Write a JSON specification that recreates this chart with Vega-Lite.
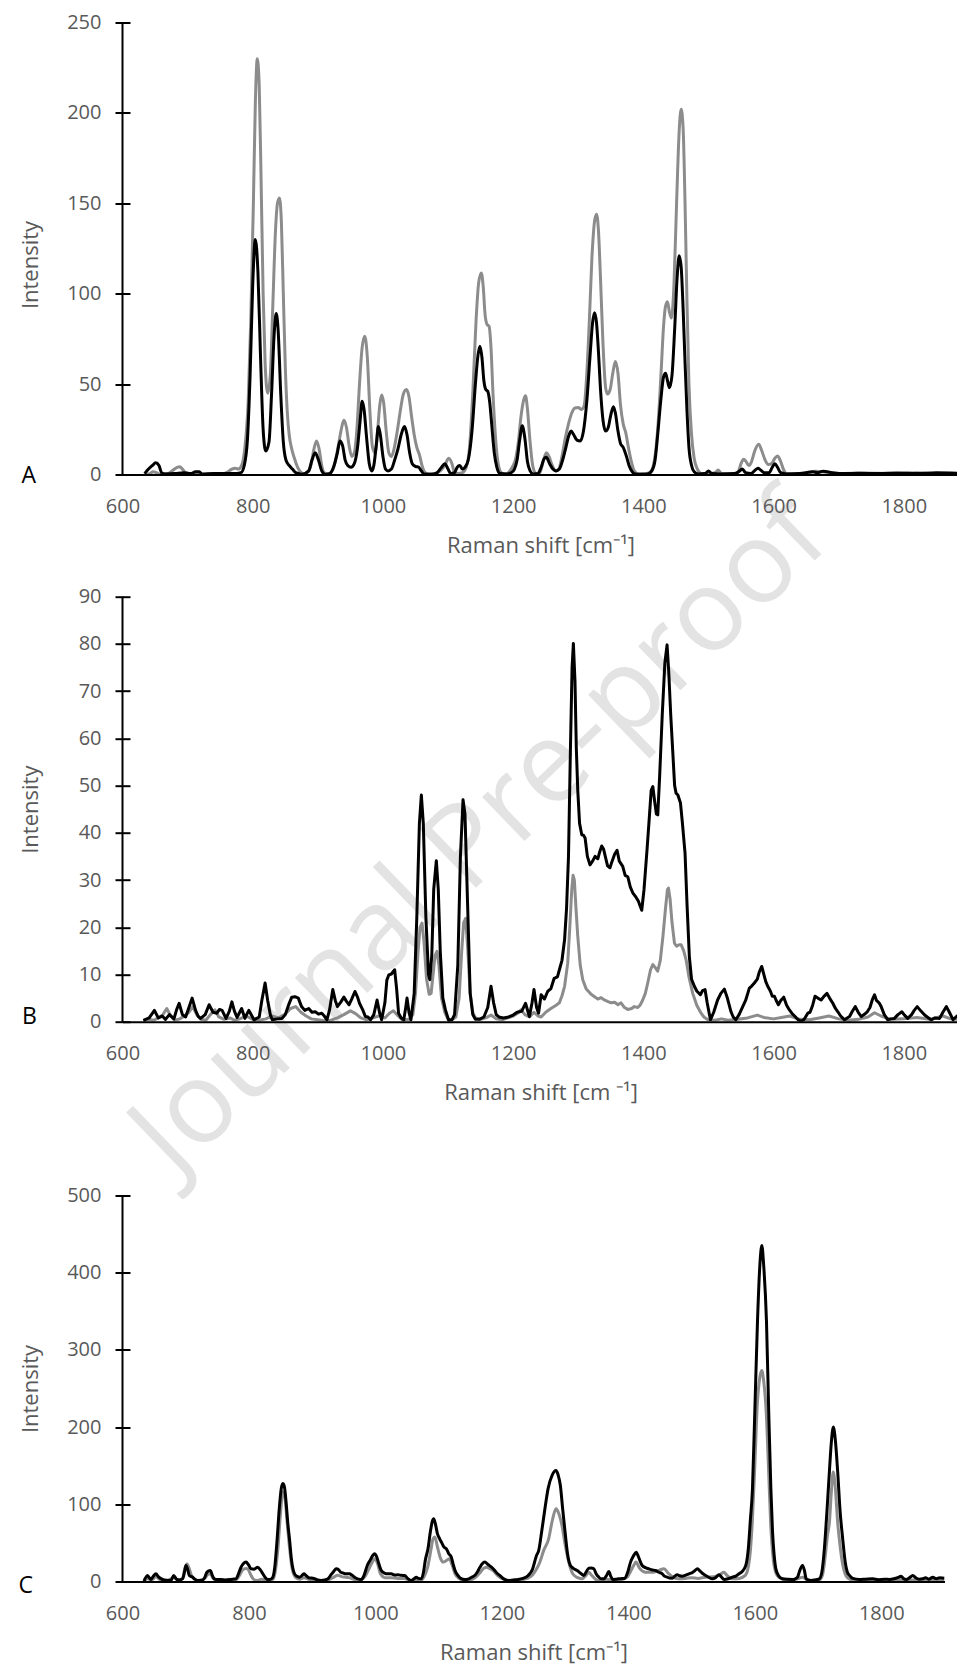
{
"$schema": "https://vega.github.io/schema/vega-lite/v6.json",
"autosize": {"type": "pad"},
"padding": {"left": 18.5, "top": 12.5, "right": 0, "bottom": 0},
"background": "white",
"config": {
  "view": {"stroke": null},
  "axis": {"labelFont": "Open Sans", "titleFont": "Open Sans", "labelFontSize": 20, "titleFontSize": 22, "labelColor": "#595959", "titleColor": "#595959", "titleFontWeight": "normal", "grid": false, "domainColor": "#000000", "tickColor": "#000000", "zindex": 1},
  "axisY": {"offset": -7.5, "domain": false, "tickSize": 15, "tickWidth": 2, "labelPadding": 14, "minExtent": 62, "maxExtent": 62, "titlePadding": 26, "labelOverlap": false},
  "axisX": {"ticks": false, "tickSize": 0, "labelPadding": 22, "titlePadding": 19, "domainWidth": 2, "labelFlush": false, "labelOverlap": false}
},
"datasets": {
"A": [
{"s":"k","x":634,"y":0.5},{"s":"k","x":640,"y":3},{"s":"k","x":646,"y":5},{"s":"k","x":651,"y":6.5},{"s":"k","x":656,"y":5},{"s":"k","x":660,"y":1},{"s":"k","x":666,"y":0.3},{"s":"k","x":680,"y":0.5},{"s":"k","x":695,"y":1},{"s":"k","x":705,"y":0.5},{"s":"k","x":712,"y":1.5},{"s":"k","x":718,"y":1.5},{"s":"k","x":722,"y":0.3},{"s":"k","x":740,"y":0.5},{"s":"k","x":760,"y":0.5},{"s":"k","x":775,"y":0.5},{"s":"k","x":782,"y":1},{"s":"k","x":787,"y":5},{"s":"k","x":792,"y":20},{"s":"k","x":796,"y":55},{"s":"k","x":800,"y":105},{"s":"k","x":804,"y":130},{"s":"k","x":808,"y":112},{"s":"k","x":812,"y":65},{"s":"k","x":816,"y":25},{"s":"k","x":820,"y":13},{"s":"k","x":825,"y":18},{"s":"k","x":829,"y":45},{"s":"k","x":833,"y":78},{"s":"k","x":836,"y":89},{"s":"k","x":839,"y":80},{"s":"k","x":843,"y":45},{"s":"k","x":847,"y":18},{"s":"k","x":851,"y":8},{"s":"k","x":856,"y":5},{"s":"k","x":861,"y":3},{"s":"k","x":866,"y":1},{"s":"k","x":876,"y":0.2},{"s":"k","x":886,"y":2},{"s":"k","x":891,"y":8},{"s":"k","x":896,"y":12},{"s":"k","x":901,"y":8},{"s":"k","x":906,"y":2},{"s":"k","x":911,"y":0.2},{"s":"k","x":918,"y":0.5},{"s":"k","x":925,"y":5},{"s":"k","x":930,"y":12},{"s":"k","x":934,"y":18.5},{"s":"k","x":938,"y":16},{"s":"k","x":942,"y":8},{"s":"k","x":946,"y":5},{"s":"k","x":951,"y":4},{"s":"k","x":956,"y":6},{"s":"k","x":961,"y":15},{"s":"k","x":965,"y":30},{"s":"k","x":968,"y":40.5},{"s":"k","x":971,"y":36},{"s":"k","x":975,"y":20},{"s":"k","x":979,"y":6},{"s":"k","x":983,"y":2},{"s":"k","x":986,"y":5},{"s":"k","x":990,"y":17},{"s":"k","x":993,"y":26.5},{"s":"k","x":996,"y":22},{"s":"k","x":1000,"y":10},{"s":"k","x":1004,"y":3},{"s":"k","x":1008,"y":2},{"s":"k","x":1013,"y":3},{"s":"k","x":1018,"y":8},{"s":"k","x":1023,"y":14},{"s":"k","x":1028,"y":22},{"s":"k","x":1033,"y":26.5},{"s":"k","x":1037,"y":22},{"s":"k","x":1041,"y":12},{"s":"k","x":1045,"y":6},{"s":"k","x":1050,"y":4.5},{"s":"k","x":1055,"y":4},{"s":"k","x":1059,"y":2},{"s":"k","x":1063,"y":0.3},{"s":"k","x":1075,"y":0.2},{"s":"k","x":1083,"y":1},{"s":"k","x":1090,"y":4},{"s":"k","x":1095,"y":6},{"s":"k","x":1100,"y":3},{"s":"k","x":1104,"y":0.5},{"s":"k","x":1110,"y":1},{"s":"k","x":1114,"y":4},{"s":"k","x":1118,"y":5},{"s":"k","x":1122,"y":3},{"s":"k","x":1126,"y":4},{"s":"k","x":1131,"y":8},{"s":"k","x":1137,"y":25},{"s":"k","x":1142,"y":50},{"s":"k","x":1146,"y":66},{"s":"k","x":1149,"y":71},{"s":"k","x":1152,"y":65},{"s":"k","x":1155,"y":52},{"s":"k","x":1158,"y":47},{"s":"k","x":1161,"y":46},{"s":"k","x":1164,"y":40},{"s":"k","x":1167,"y":28},{"s":"k","x":1171,"y":12},{"s":"k","x":1175,"y":4},{"s":"k","x":1180,"y":0.5},{"s":"k","x":1190,"y":0.3},{"s":"k","x":1197,"y":1},{"s":"k","x":1202,"y":3},{"s":"k","x":1206,"y":8},{"s":"k","x":1210,"y":19},{"s":"k","x":1214,"y":27},{"s":"k","x":1218,"y":20},{"s":"k","x":1222,"y":7},{"s":"k","x":1226,"y":2},{"s":"k","x":1231,"y":0.3},{"s":"k","x":1238,"y":0.5},{"s":"k","x":1243,"y":4},{"s":"k","x":1248,"y":9},{"s":"k","x":1251,"y":9.5},{"s":"k","x":1256,"y":6},{"s":"k","x":1261,"y":3},{"s":"k","x":1266,"y":2},{"s":"k","x":1271,"y":3},{"s":"k","x":1276,"y":8},{"s":"k","x":1281,"y":15},{"s":"k","x":1285,"y":21},{"s":"k","x":1289,"y":24},{"s":"k","x":1293,"y":22},{"s":"k","x":1298,"y":19},{"s":"k","x":1303,"y":18.5},{"s":"k","x":1308,"y":24},{"s":"k","x":1313,"y":40},{"s":"k","x":1318,"y":65},{"s":"k","x":1322,"y":84},{"s":"k","x":1325,"y":89.5},{"s":"k","x":1328,"y":84},{"s":"k","x":1331,"y":68},{"s":"k","x":1334,"y":48},{"s":"k","x":1338,"y":30},{"s":"k","x":1342,"y":24},{"s":"k","x":1346,"y":26},{"s":"k","x":1350,"y":33},{"s":"k","x":1354,"y":37.5},{"s":"k","x":1357,"y":34},{"s":"k","x":1361,"y":24},{"s":"k","x":1365,"y":17},{"s":"k","x":1369,"y":15},{"s":"k","x":1374,"y":10},{"s":"k","x":1378,"y":5},{"s":"k","x":1383,"y":1.5},{"s":"k","x":1388,"y":0.3},{"s":"k","x":1400,"y":0.2},{"s":"k","x":1408,"y":0.5},{"s":"k","x":1413,"y":2},{"s":"k","x":1418,"y":8},{"s":"k","x":1422,"y":22},{"s":"k","x":1427,"y":42},{"s":"k","x":1431,"y":54},{"s":"k","x":1434,"y":56},{"s":"k","x":1437,"y":52},{"s":"k","x":1440,"y":48},{"s":"k","x":1444,"y":55},{"s":"k","x":1448,"y":80},{"s":"k","x":1452,"y":110},{"s":"k","x":1455,"y":121},{"s":"k","x":1458,"y":115},{"s":"k","x":1461,"y":92},{"s":"k","x":1464,"y":62},{"s":"k","x":1467,"y":35},{"s":"k","x":1470,"y":15},{"s":"k","x":1474,"y":5},{"s":"k","x":1478,"y":1.5},{"s":"k","x":1484,"y":0.3},{"s":"k","x":1495,"y":0.5},{"s":"k","x":1500,"y":2},{"s":"k","x":1505,"y":0.5},{"s":"k","x":1520,"y":0.3},{"s":"k","x":1540,"y":0.5},{"s":"k","x":1548,"y":2},{"s":"k","x":1552,"y":3},{"s":"k","x":1557,"y":1},{"s":"k","x":1565,"y":0.5},{"s":"k","x":1572,"y":2.5},{"s":"k","x":1576,"y":3.5},{"s":"k","x":1580,"y":2.5},{"s":"k","x":1586,"y":1},{"s":"k","x":1593,"y":1},{"s":"k","x":1598,"y":4},{"s":"k","x":1602,"y":6},{"s":"k","x":1606,"y":4},{"s":"k","x":1611,"y":1},{"s":"k","x":1620,"y":0.3},{"s":"k","x":1640,"y":0.5},{"s":"k","x":1660,"y":1.5},{"s":"k","x":1668,"y":1},{"s":"k","x":1676,"y":1.8},{"s":"k","x":1690,"y":1},{"s":"k","x":1710,"y":0.5},{"s":"k","x":1730,"y":0.7},{"s":"k","x":1760,"y":0.5},{"s":"k","x":1790,"y":0.8},{"s":"k","x":1820,"y":0.6},{"s":"k","x":1850,"y":0.9},{"s":"k","x":1884,"y":0.6},
{"s":"g","x":634,"y":0},{"s":"g","x":642,"y":0.5},{"s":"g","x":647,"y":1.5},{"s":"g","x":652,"y":1},{"s":"g","x":657,"y":0.2},{"s":"g","x":670,"y":0.5},{"s":"g","x":678,"y":2.5},{"s":"g","x":684,"y":4},{"s":"g","x":688,"y":4.3},{"s":"g","x":692,"y":3},{"s":"g","x":697,"y":1},{"s":"g","x":705,"y":0.3},{"s":"g","x":720,"y":0.2},{"s":"g","x":740,"y":0.3},{"s":"g","x":755,"y":0.5},{"s":"g","x":762,"y":1.5},{"s":"g","x":768,"y":3},{"s":"g","x":773,"y":3.5},{"s":"g","x":778,"y":3},{"s":"g","x":783,"y":5},{"s":"g","x":788,"y":15},{"s":"g","x":793,"y":40},{"s":"g","x":797,"y":85},{"s":"g","x":801,"y":150},{"s":"g","x":804,"y":205},{"s":"g","x":807,"y":230},{"s":"g","x":810,"y":215},{"s":"g","x":813,"y":160},{"s":"g","x":816,"y":100},{"s":"g","x":819,"y":62},{"s":"g","x":823,"y":45},{"s":"g","x":827,"y":55},{"s":"g","x":831,"y":95},{"s":"g","x":835,"y":135},{"s":"g","x":838,"y":150},{"s":"g","x":841,"y":153},{"s":"g","x":844,"y":140},{"s":"g","x":847,"y":100},{"s":"g","x":850,"y":60},{"s":"g","x":853,"y":35},{"s":"g","x":856,"y":22},{"s":"g","x":860,"y":14},{"s":"g","x":864,"y":9},{"s":"g","x":869,"y":4},{"s":"g","x":875,"y":1},{"s":"g","x":880,"y":0.5},{"s":"g","x":885,"y":1.5},{"s":"g","x":890,"y":6},{"s":"g","x":894,"y":14},{"s":"g","x":898,"y":18.5},{"s":"g","x":902,"y":14},{"s":"g","x":906,"y":5},{"s":"g","x":910,"y":1},{"s":"g","x":915,"y":0.5},{"s":"g","x":920,"y":1},{"s":"g","x":926,"y":6},{"s":"g","x":931,"y":15},{"s":"g","x":936,"y":25},{"s":"g","x":940,"y":30},{"s":"g","x":944,"y":26},{"s":"g","x":948,"y":16},{"s":"g","x":952,"y":10},{"s":"g","x":956,"y":12},{"s":"g","x":960,"y":25},{"s":"g","x":964,"y":50},{"s":"g","x":968,"y":70},{"s":"g","x":972,"y":76.5},{"s":"g","x":976,"y":65},{"s":"g","x":980,"y":35},{"s":"g","x":984,"y":15},{"s":"g","x":988,"y":12},{"s":"g","x":992,"y":25},{"s":"g","x":995,"y":38},{"s":"g","x":998,"y":44},{"s":"g","x":1001,"y":40},{"s":"g","x":1005,"y":24},{"s":"g","x":1009,"y":12},{"s":"g","x":1013,"y":10},{"s":"g","x":1017,"y":14},{"s":"g","x":1022,"y":24},{"s":"g","x":1027,"y":36},{"s":"g","x":1031,"y":44},{"s":"g","x":1036,"y":47},{"s":"g","x":1040,"y":43},{"s":"g","x":1044,"y":32},{"s":"g","x":1048,"y":22},{"s":"g","x":1052,"y":15},{"s":"g","x":1056,"y":11},{"s":"g","x":1060,"y":5},{"s":"g","x":1065,"y":1},{"s":"g","x":1072,"y":0.3},{"s":"g","x":1080,"y":0.5},{"s":"g","x":1088,"y":2},{"s":"g","x":1095,"y":5},{"s":"g","x":1101,"y":9},{"s":"g","x":1106,"y":6},{"s":"g","x":1110,"y":1},{"s":"g","x":1116,"y":0.5},{"s":"g","x":1122,"y":1},{"s":"g","x":1128,"y":4},{"s":"g","x":1133,"y":15},{"s":"g","x":1138,"y":45},{"s":"g","x":1143,"y":85},{"s":"g","x":1147,"y":106},{"s":"g","x":1151,"y":111.5},{"s":"g","x":1154,"y":104},{"s":"g","x":1157,"y":88},{"s":"g","x":1160,"y":83},{"s":"g","x":1163,"y":82},{"s":"g","x":1166,"y":70},{"s":"g","x":1169,"y":45},{"s":"g","x":1173,"y":20},{"s":"g","x":1177,"y":6},{"s":"g","x":1182,"y":1},{"s":"g","x":1188,"y":0.3},{"s":"g","x":1195,"y":2},{"s":"g","x":1200,"y":5},{"s":"g","x":1204,"y":9},{"s":"g","x":1208,"y":18},{"s":"g","x":1212,"y":32},{"s":"g","x":1216,"y":41},{"s":"g","x":1219,"y":43.5},{"s":"g","x":1222,"y":36},{"s":"g","x":1226,"y":18},{"s":"g","x":1230,"y":5},{"s":"g","x":1235,"y":0.5},{"s":"g","x":1241,"y":1},{"s":"g","x":1246,"y":7},{"s":"g","x":1251,"y":12},{"s":"g","x":1255,"y":10},{"s":"g","x":1260,"y":5},{"s":"g","x":1265,"y":2},{"s":"g","x":1270,"y":3},{"s":"g","x":1275,"y":10},{"s":"g","x":1280,"y":20},{"s":"g","x":1285,"y":28},{"s":"g","x":1290,"y":34},{"s":"g","x":1295,"y":36.8},{"s":"g","x":1300,"y":37},{"s":"g","x":1305,"y":36},{"s":"g","x":1309,"y":38},{"s":"g","x":1313,"y":55},{"s":"g","x":1317,"y":85},{"s":"g","x":1321,"y":120},{"s":"g","x":1325,"y":140},{"s":"g","x":1328,"y":144},{"s":"g","x":1331,"y":135},{"s":"g","x":1334,"y":110},{"s":"g","x":1338,"y":72},{"s":"g","x":1342,"y":48},{"s":"g","x":1345,"y":44.5},{"s":"g","x":1349,"y":47},{"s":"g","x":1353,"y":56},{"s":"g","x":1357,"y":62.5},{"s":"g","x":1361,"y":56},{"s":"g","x":1365,"y":38},{"s":"g","x":1369,"y":28},{"s":"g","x":1373,"y":23},{"s":"g","x":1377,"y":15},{"s":"g","x":1381,"y":8},{"s":"g","x":1386,"y":2},{"s":"g","x":1392,"y":0.3},{"s":"g","x":1405,"y":0.5},{"s":"g","x":1412,"y":2},{"s":"g","x":1417,"y":8},{"s":"g","x":1422,"y":25},{"s":"g","x":1427,"y":55},{"s":"g","x":1431,"y":82},{"s":"g","x":1434,"y":93},{"s":"g","x":1437,"y":95.5},{"s":"g","x":1440,"y":90},{"s":"g","x":1443,"y":86.5},{"s":"g","x":1447,"y":105},{"s":"g","x":1451,"y":150},{"s":"g","x":1455,"y":190},{"s":"g","x":1458,"y":202},{"s":"g","x":1461,"y":192},{"s":"g","x":1464,"y":150},{"s":"g","x":1467,"y":95},{"s":"g","x":1470,"y":50},{"s":"g","x":1474,"y":22},{"s":"g","x":1478,"y":9},{"s":"g","x":1483,"y":3},{"s":"g","x":1489,"y":0.5},{"s":"g","x":1500,"y":0.3},{"s":"g","x":1510,"y":1},{"s":"g","x":1515,"y":2.5},{"s":"g","x":1520,"y":0.5},{"s":"g","x":1530,"y":0.3},{"s":"g","x":1545,"y":1},{"s":"g","x":1550,"y":6},{"s":"g","x":1554,"y":8.5},{"s":"g","x":1558,"y":7},{"s":"g","x":1562,"y":5},{"s":"g","x":1566,"y":7},{"s":"g","x":1571,"y":13},{"s":"g","x":1577,"y":16.7},{"s":"g","x":1582,"y":13},{"s":"g","x":1587,"y":8},{"s":"g","x":1592,"y":5.5},{"s":"g","x":1597,"y":6},{"s":"g","x":1602,"y":9},{"s":"g","x":1606,"y":10.2},{"s":"g","x":1610,"y":8},{"s":"g","x":1615,"y":3},{"s":"g","x":1620,"y":0.5},{"s":"g","x":1630,"y":0.3},{"s":"g","x":1650,"y":0.5},{"s":"g","x":1665,"y":1.8},{"s":"g","x":1675,"y":1.5},{"s":"g","x":1685,"y":1},{"s":"g","x":1700,"y":0.6},{"s":"g","x":1740,"y":0.8},{"s":"g","x":1780,"y":0.5},{"s":"g","x":1820,"y":0.9},{"s":"g","x":1850,"y":0.6},{"s":"g","x":1884,"y":0.5}
],
"B": [
{"s":"k","x":632,"y":0.3},{"s":"k","x":641,"y":0.8},{"s":"k","x":649,"y":2.4},{"s":"k","x":655,"y":0.8},{"s":"k","x":661,"y":1.2},{"s":"k","x":666,"y":0.5},{"s":"k","x":672,"y":1.5},{"s":"k","x":679,"y":0.6},{"s":"k","x":683,"y":2.5},{"s":"k","x":687,"y":3.9},{"s":"k","x":692,"y":1.5},{"s":"k","x":697,"y":1},{"s":"k","x":702,"y":3},{"s":"k","x":707,"y":5},{"s":"k","x":712,"y":2.5},{"s":"k","x":716,"y":1.2},{"s":"k","x":720,"y":0.7},{"s":"k","x":727,"y":1.5},{"s":"k","x":733,"y":3.6},{"s":"k","x":739,"y":2},{"s":"k","x":745,"y":1.8},{"s":"k","x":749,"y":2.6},{"s":"k","x":753,"y":2.4},{"s":"k","x":759,"y":0.7},{"s":"k","x":764,"y":2.2},{"s":"k","x":768,"y":4.2},{"s":"k","x":772,"y":2.2},{"s":"k","x":776,"y":0.9},{"s":"k","x":780,"y":2},{"s":"k","x":783,"y":2.8},{"s":"k","x":788,"y":0.7},{"s":"k","x":791,"y":1.6},{"s":"k","x":794,"y":2.4},{"s":"k","x":798,"y":1.4},{"s":"k","x":802,"y":0.4},{"s":"k","x":810,"y":1},{"s":"k","x":814,"y":4.5},{"s":"k","x":819,"y":8.2},{"s":"k","x":823,"y":4.5},{"s":"k","x":827,"y":1.5},{"s":"k","x":830,"y":0.4},{"s":"k","x":838,"y":0.6},{"s":"k","x":845,"y":0.7},{"s":"k","x":850,"y":1.5},{"s":"k","x":855,"y":3.5},{"s":"k","x":860,"y":5.2},{"s":"k","x":865,"y":5.3},{"s":"k","x":870,"y":5},{"s":"k","x":875,"y":3.2},{"s":"k","x":880,"y":2.4},{"s":"k","x":886,"y":2.8},{"s":"k","x":891,"y":2},{"s":"k","x":896,"y":2.1},{"s":"k","x":901,"y":1.6},{"s":"k","x":906,"y":1.8},{"s":"k","x":910,"y":1.2},{"s":"k","x":914,"y":0.4},{"s":"k","x":918,"y":2.5},{"s":"k","x":923,"y":6.8},{"s":"k","x":927,"y":4.4},{"s":"k","x":930,"y":3.2},{"s":"k","x":935,"y":4.1},{"s":"k","x":940,"y":5.2},{"s":"k","x":944,"y":4.3},{"s":"k","x":948,"y":3.6},{"s":"k","x":952,"y":4.8},{"s":"k","x":957,"y":6.4},{"s":"k","x":961,"y":5.2},{"s":"k","x":964,"y":3.9},{"s":"k","x":969,"y":2.5},{"s":"k","x":973,"y":1.1},{"s":"k","x":977,"y":1},{"s":"k","x":981,"y":0.4},{"s":"k","x":986,"y":1.5},{"s":"k","x":991,"y":4.6},{"s":"k","x":995,"y":1.8},{"s":"k","x":998,"y":0.4},{"s":"k","x":1003,"y":4},{"s":"k","x":1006,"y":8.8},{"s":"k","x":1009,"y":9.9},{"s":"k","x":1013,"y":10.1},{"s":"k","x":1018,"y":11},{"s":"k","x":1021,"y":7},{"s":"k","x":1024,"y":1.8},{"s":"k","x":1028,"y":0.8},{"s":"k","x":1032,"y":0.4},{"s":"k","x":1035,"y":3},{"s":"k","x":1037,"y":5},{"s":"k","x":1040,"y":2},{"s":"k","x":1043,"y":0.4},{"s":"k","x":1048,"y":6},{"s":"k","x":1052,"y":22},{"s":"k","x":1056,"y":42},{"s":"k","x":1059,"y":48},{"s":"k","x":1062,"y":42},{"s":"k","x":1066,"y":22},{"s":"k","x":1070,"y":10},{"s":"k","x":1072,"y":8.9},{"s":"k","x":1075,"y":14},{"s":"k","x":1078,"y":28},{"s":"k","x":1082,"y":34.1},{"s":"k","x":1085,"y":28},{"s":"k","x":1088,"y":15},{"s":"k","x":1092,"y":5},{"s":"k","x":1096,"y":2.5},{"s":"k","x":1101,"y":0.3},{"s":"k","x":1106,"y":0.4},{"s":"k","x":1110,"y":1.5},{"s":"k","x":1115,"y":12},{"s":"k","x":1119,"y":35},{"s":"k","x":1123,"y":47},{"s":"k","x":1126,"y":44},{"s":"k","x":1130,"y":25},{"s":"k","x":1134,"y":6},{"s":"k","x":1138,"y":1.5},{"s":"k","x":1142,"y":0.5},{"s":"k","x":1148,"y":0.5},{"s":"k","x":1155,"y":1},{"s":"k","x":1161,"y":3},{"s":"k","x":1166,"y":7.5},{"s":"k","x":1170,"y":4},{"s":"k","x":1174,"y":1.5},{"s":"k","x":1178,"y":1},{"s":"k","x":1185,"y":0.8},{"s":"k","x":1193,"y":1},{"s":"k","x":1200,"y":1.4},{"s":"k","x":1206,"y":2},{"s":"k","x":1213,"y":2.2},{"s":"k","x":1219,"y":3.9},{"s":"k","x":1223,"y":2},{"s":"k","x":1225,"y":1.1},{"s":"k","x":1229,"y":4},{"s":"k","x":1232,"y":6.8},{"s":"k","x":1236,"y":3},{"s":"k","x":1239,"y":1.8},{"s":"k","x":1243,"y":5.7},{"s":"k","x":1248,"y":4.8},{"s":"k","x":1253,"y":6.4},{"s":"k","x":1258,"y":7},{"s":"k","x":1263,"y":9.2},{"s":"k","x":1268,"y":9.5},{"s":"k","x":1271,"y":11},{"s":"k","x":1275,"y":13},{"s":"k","x":1279,"y":17.4},{"s":"k","x":1282,"y":24},{"s":"k","x":1285,"y":35},{"s":"k","x":1288,"y":58},{"s":"k","x":1290.5,"y":75},{"s":"k","x":1292.5,"y":80.1},{"s":"k","x":1295,"y":72},{"s":"k","x":1297,"y":58},{"s":"k","x":1299.2,"y":49.1},{"s":"k","x":1302,"y":42},{"s":"k","x":1305.4,"y":39.6},{"s":"k","x":1308,"y":39.5},{"s":"k","x":1310.5,"y":38.9},{"s":"k","x":1314,"y":35},{"s":"k","x":1318,"y":33.2},{"s":"k","x":1322,"y":34},{"s":"k","x":1325.8,"y":35},{"s":"k","x":1330,"y":34.5},{"s":"k","x":1333,"y":36},{"s":"k","x":1336,"y":37.2},{"s":"k","x":1339,"y":36.5},{"s":"k","x":1341.5,"y":35},{"s":"k","x":1345,"y":33},{"s":"k","x":1348.7,"y":32.6},{"s":"k","x":1352,"y":34},{"s":"k","x":1356,"y":35.5},{"s":"k","x":1359.6,"y":36.3},{"s":"k","x":1363,"y":34},{"s":"k","x":1368.3,"y":32.9},{"s":"k","x":1372,"y":31},{"s":"k","x":1376,"y":30.7},{"s":"k","x":1380,"y":28.5},{"s":"k","x":1383.7,"y":27.3},{"s":"k","x":1388,"y":26.5},{"s":"k","x":1392.4,"y":25.5},{"s":"k","x":1395,"y":24.5},{"s":"k","x":1397.5,"y":23.6},{"s":"k","x":1401,"y":28},{"s":"k","x":1405.6,"y":36.4},{"s":"k","x":1409,"y":43},{"s":"k","x":1412,"y":49},{"s":"k","x":1414.5,"y":49.8},{"s":"k","x":1417,"y":47},{"s":"k","x":1420,"y":44},{"s":"k","x":1422.1,"y":43.8},{"s":"k","x":1425,"y":52},{"s":"k","x":1429,"y":65},{"s":"k","x":1433,"y":76},{"s":"k","x":1436.4,"y":79.8},{"s":"k","x":1439,"y":74},{"s":"k","x":1442,"y":65},{"s":"k","x":1445,"y":57.5},{"s":"k","x":1448,"y":50},{"s":"k","x":1450.2,"y":48.4},{"s":"k","x":1453,"y":48},{"s":"k","x":1457,"y":46.3},{"s":"k","x":1460,"y":42},{"s":"k","x":1464,"y":35.7},{"s":"k","x":1467,"y":25},{"s":"k","x":1470.6,"y":13.8},{"s":"k","x":1474,"y":9},{"s":"k","x":1478.3,"y":7.5},{"s":"k","x":1482,"y":6.5},{"s":"k","x":1487.5,"y":5.7},{"s":"k","x":1491,"y":6.6},{"s":"k","x":1494.7,"y":6.8},{"s":"k","x":1498,"y":4},{"s":"k","x":1503,"y":0.4},{"s":"k","x":1508,"y":2},{"s":"k","x":1514,"y":4.6},{"s":"k","x":1519,"y":6},{"s":"k","x":1524.4,"y":6.9},{"s":"k","x":1529,"y":5},{"s":"k","x":1534.6,"y":2.1},{"s":"k","x":1538,"y":1},{"s":"k","x":1542,"y":0.4},{"s":"k","x":1547,"y":1.5},{"s":"k","x":1552.6,"y":3.2},{"s":"k","x":1557,"y":4.5},{"s":"k","x":1562.8,"y":7.1},{"s":"k","x":1566,"y":7.5},{"s":"k","x":1570.5,"y":8.2},{"s":"k","x":1575,"y":9},{"s":"k","x":1578,"y":10.5},{"s":"k","x":1581.8,"y":11.7},{"s":"k","x":1585,"y":10},{"s":"k","x":1588,"y":8.5},{"s":"k","x":1591,"y":7.5},{"s":"k","x":1595,"y":6.5},{"s":"k","x":1598,"y":5.4},{"s":"k","x":1601.3,"y":5.4},{"s":"k","x":1604,"y":4.5},{"s":"k","x":1607.4,"y":3.6},{"s":"k","x":1611,"y":4.5},{"s":"k","x":1615.6,"y":5.2},{"s":"k","x":1620,"y":3.5},{"s":"k","x":1624.3,"y":2.5},{"s":"k","x":1628,"y":1.8},{"s":"k","x":1633,"y":1.1},{"s":"k","x":1637,"y":0.5},{"s":"k","x":1642,"y":0.1},{"s":"k","x":1647,"y":0.5},{"s":"k","x":1652.5,"y":1.8},{"s":"k","x":1656,"y":2},{"s":"k","x":1660,"y":3.5},{"s":"k","x":1663.7,"y":5.4},{"s":"k","x":1668,"y":5},{"s":"k","x":1673,"y":4.6},{"s":"k","x":1677,"y":5.3},{"s":"k","x":1682,"y":6},{"s":"k","x":1686,"y":5},{"s":"k","x":1691,"y":3.9},{"s":"k","x":1695,"y":2.8},{"s":"k","x":1698.7,"y":2.1},{"s":"k","x":1703,"y":1.2},{"s":"k","x":1709,"y":0.4},{"s":"k","x":1713,"y":0.8},{"s":"k","x":1716.7,"y":1.1},{"s":"k","x":1721,"y":2.2},{"s":"k","x":1725.5,"y":3.2},{"s":"k","x":1730,"y":2},{"s":"k","x":1734.7,"y":1.1},{"s":"k","x":1739,"y":1.5},{"s":"k","x":1743.9,"y":2.1},{"s":"k","x":1748,"y":3},{"s":"k","x":1752,"y":4.8},{"s":"k","x":1755,"y":5.7},{"s":"k","x":1758,"y":4.5},{"s":"k","x":1762,"y":4},{"s":"k","x":1765.2,"y":3.2},{"s":"k","x":1770,"y":1.5},{"s":"k","x":1775.4,"y":0.4},{"s":"k","x":1780,"y":0.6},{"s":"k","x":1785.6,"y":0.7},{"s":"k","x":1791,"y":1.5},{"s":"k","x":1797,"y":2.1},{"s":"k","x":1801,"y":1.4},{"s":"k","x":1806,"y":0.7},{"s":"k","x":1812,"y":1.5},{"s":"k","x":1816,"y":2.4},{"s":"k","x":1820.6,"y":3.2},{"s":"k","x":1826,"y":2.3},{"s":"k","x":1832,"y":1.4},{"s":"k","x":1837,"y":0.9},{"s":"k","x":1842,"y":0.4},{"s":"k","x":1848,"y":0.8},{"s":"k","x":1855,"y":0.7},{"s":"k","x":1860,"y":2},{"s":"k","x":1865.4,"y":3.2},{"s":"k","x":1870,"y":2},{"s":"k","x":1875.7,"y":0.4},{"s":"k","x":1880,"y":1},{"s":"k","x":1884,"y":1.4},
{"s":"g","x":632,"y":0.2},{"s":"g","x":640,"y":0.5},{"s":"g","x":648,"y":0.3},{"s":"g","x":655,"y":0.8},{"s":"g","x":662,"y":1.5},{"s":"g","x":668,"y":2.8},{"s":"g","x":674,"y":1.2},{"s":"g","x":680,"y":0.3},{"s":"g","x":688,"y":0.6},{"s":"g","x":695,"y":1.2},{"s":"g","x":702,"y":2},{"s":"g","x":708,"y":3.2},{"s":"g","x":714,"y":1.5},{"s":"g","x":720,"y":0.5},{"s":"g","x":728,"y":0.3},{"s":"g","x":735,"y":1.5},{"s":"g","x":742,"y":2.5},{"s":"g","x":748,"y":1},{"s":"g","x":756,"y":0.5},{"s":"g","x":765,"y":0.8},{"s":"g","x":772,"y":0.3},{"s":"g","x":780,"y":0.6},{"s":"g","x":790,"y":1.2},{"s":"g","x":800,"y":0.5},{"s":"g","x":810,"y":0.3},{"s":"g","x":820,"y":0.6},{"s":"g","x":830,"y":1.2},{"s":"g","x":840,"y":0.8},{"s":"g","x":850,"y":1.6},{"s":"g","x":858,"y":2.8},{"s":"g","x":866,"y":3.2},{"s":"g","x":874,"y":2},{"s":"g","x":882,"y":1.2},{"s":"g","x":890,"y":0.6},{"s":"g","x":900,"y":0.4},{"s":"g","x":910,"y":0.2},{"s":"g","x":920,"y":0.3},{"s":"g","x":930,"y":0.8},{"s":"g","x":940,"y":1.5},{"s":"g","x":950,"y":2.3},{"s":"g","x":958,"y":1.7},{"s":"g","x":966,"y":0.8},{"s":"g","x":975,"y":0.4},{"s":"g","x":985,"y":0.8},{"s":"g","x":995,"y":1.3},{"s":"g","x":1003,"y":0.8},{"s":"g","x":1010,"y":1.8},{"s":"g","x":1016,"y":2.3},{"s":"g","x":1022,"y":1.4},{"s":"g","x":1030,"y":0.4},{"s":"g","x":1040,"y":0.5},{"s":"g","x":1046,"y":1.5},{"s":"g","x":1050,"y":6},{"s":"g","x":1054,"y":15},{"s":"g","x":1057,"y":20},{"s":"g","x":1060,"y":20.9},{"s":"g","x":1063,"y":17},{"s":"g","x":1067,"y":9},{"s":"g","x":1071,"y":5.8},{"s":"g","x":1074,"y":6},{"s":"g","x":1077,"y":10},{"s":"g","x":1080,"y":14},{"s":"g","x":1083,"y":14.9},{"s":"g","x":1086,"y":12},{"s":"g","x":1090,"y":5},{"s":"g","x":1095,"y":2},{"s":"g","x":1100,"y":0.5},{"s":"g","x":1106,"y":0.4},{"s":"g","x":1112,"y":1},{"s":"g","x":1117,"y":5},{"s":"g","x":1121,"y":15},{"s":"g","x":1124,"y":21},{"s":"g","x":1127,"y":21.9},{"s":"g","x":1130,"y":16},{"s":"g","x":1134,"y":6},{"s":"g","x":1138,"y":2},{"s":"g","x":1142,"y":0.8},{"s":"g","x":1150,"y":0.5},{"s":"g","x":1158,"y":0.8},{"s":"g","x":1166,"y":1.4},{"s":"g","x":1174,"y":0.6},{"s":"g","x":1183,"y":0.4},{"s":"g","x":1192,"y":0.8},{"s":"g","x":1200,"y":1.2},{"s":"g","x":1207,"y":1.8},{"s":"g","x":1212,"y":2.5},{"s":"g","x":1218,"y":1.5},{"s":"g","x":1225,"y":1},{"s":"g","x":1232,"y":2},{"s":"g","x":1238,"y":1.2},{"s":"g","x":1243,"y":1},{"s":"g","x":1250,"y":2},{"s":"g","x":1258,"y":2.8},{"s":"g","x":1266,"y":3.5},{"s":"g","x":1271,"y":4},{"s":"g","x":1275,"y":5.5},{"s":"g","x":1279,"y":7.5},{"s":"g","x":1283.8,"y":12.4},{"s":"g","x":1287,"y":20},{"s":"g","x":1290,"y":28},{"s":"g","x":1292,"y":31},{"s":"g","x":1294,"y":30},{"s":"g","x":1296.5,"y":24},{"s":"g","x":1299.2,"y":18.1},{"s":"g","x":1303,"y":12},{"s":"g","x":1306.9,"y":8.9},{"s":"g","x":1312,"y":7},{"s":"g","x":1319.7,"y":5.8},{"s":"g","x":1326,"y":5.2},{"s":"g","x":1330,"y":4.8},{"s":"g","x":1335,"y":5.1},{"s":"g","x":1340,"y":4.6},{"s":"g","x":1345,"y":4.3},{"s":"g","x":1350.4,"y":4},{"s":"g","x":1356,"y":4.1},{"s":"g","x":1361,"y":3.6},{"s":"g","x":1365.7,"y":4},{"s":"g","x":1371,"y":3},{"s":"g","x":1376,"y":2.6},{"s":"g","x":1382,"y":2.8},{"s":"g","x":1386,"y":3.2},{"s":"g","x":1391.4,"y":3},{"s":"g","x":1395,"y":3.5},{"s":"g","x":1399,"y":4.6},{"s":"g","x":1403,"y":6},{"s":"g","x":1406.7,"y":8.2},{"s":"g","x":1411,"y":11},{"s":"g","x":1414.5,"y":12.1},{"s":"g","x":1418,"y":11.5},{"s":"g","x":1422,"y":10.7},{"s":"g","x":1426,"y":13},{"s":"g","x":1430,"y":18},{"s":"g","x":1434,"y":24},{"s":"g","x":1437,"y":28},{"s":"g","x":1438.5,"y":28.3},{"s":"g","x":1441,"y":26},{"s":"g","x":1444,"y":21},{"s":"g","x":1447.8,"y":16.6},{"s":"g","x":1451,"y":16},{"s":"g","x":1455,"y":16.3},{"s":"g","x":1458,"y":16.3},{"s":"g","x":1462,"y":15},{"s":"g","x":1465.6,"y":13.1},{"s":"g","x":1470,"y":9.5},{"s":"g","x":1475.8,"y":6},{"s":"g","x":1482,"y":3.5},{"s":"g","x":1488.6,"y":1.8},{"s":"g","x":1493,"y":1},{"s":"g","x":1499,"y":0.4},{"s":"g","x":1510,"y":0.3},{"s":"g","x":1520,"y":0.6},{"s":"g","x":1530,"y":0.3},{"s":"g","x":1545,"y":0.5},{"s":"g","x":1560,"y":0.8},{"s":"g","x":1575,"y":1.4},{"s":"g","x":1585,"y":0.9},{"s":"g","x":1600,"y":0.6},{"s":"g","x":1612,"y":0.9},{"s":"g","x":1625,"y":1.2},{"s":"g","x":1640,"y":0.5},{"s":"g","x":1655,"y":0.4},{"s":"g","x":1670,"y":0.8},{"s":"g","x":1685,"y":1.2},{"s":"g","x":1700,"y":0.6},{"s":"g","x":1715,"y":0.3},{"s":"g","x":1730,"y":0.5},{"s":"g","x":1745,"y":1},{"s":"g","x":1755,"y":1.9},{"s":"g","x":1765,"y":1.2},{"s":"g","x":1780,"y":0.5},{"s":"g","x":1800,"y":0.6},{"s":"g","x":1820,"y":0.9},{"s":"g","x":1840,"y":0.5},{"s":"g","x":1860,"y":1.2},{"s":"g","x":1872,"y":0.6},{"s":"g","x":1884,"y":0.5}
],
"C": [
{"s":"k","x":634,"y":0.5},{"s":"k","x":639.5,"y":7.8},{"s":"k","x":644.8,"y":2.6},{"s":"k","x":649,"y":7},{"s":"k","x":652.8,"y":10},{"s":"k","x":657,"y":6},{"s":"k","x":663.4,"y":2.6},{"s":"k","x":670,"y":1.5},{"s":"k","x":676.6,"y":1.3},{"s":"k","x":680.8,"y":7.8},{"s":"k","x":686,"y":2.6},{"s":"k","x":690,"y":2},{"s":"k","x":695,"y":3.5},{"s":"k","x":698,"y":12},{"s":"k","x":700.3,"y":20.7},{"s":"k","x":703,"y":16},{"s":"k","x":705.6,"y":7.8},{"s":"k","x":710.9,"y":5.6},{"s":"k","x":714,"y":3},{"s":"k","x":718.8,"y":1.3},{"s":"k","x":725,"y":1.5},{"s":"k","x":730,"y":5},{"s":"k","x":733.6,"y":12.1},{"s":"k","x":738.9,"y":14.3},{"s":"k","x":742,"y":8},{"s":"k","x":745.2,"y":3.5},{"s":"k","x":750,"y":2.5},{"s":"k","x":755.8,"y":2.6},{"s":"k","x":763,"y":2},{"s":"k","x":771.6,"y":2.6},{"s":"k","x":779.6,"y":3.5},{"s":"k","x":783,"y":9},{"s":"k","x":787.5,"y":18.6},{"s":"k","x":791,"y":23},{"s":"k","x":795.4,"y":25.1},{"s":"k","x":799,"y":22},{"s":"k","x":803.3,"y":16.4},{"s":"k","x":808,"y":16},{"s":"k","x":813.9,"y":18.6},{"s":"k","x":818,"y":15},{"s":"k","x":821.9,"y":10},{"s":"k","x":826,"y":5},{"s":"k","x":829.8,"y":2.6},{"s":"k","x":833,"y":2.5},{"s":"k","x":837.7,"y":5.6},{"s":"k","x":841,"y":20},{"s":"k","x":844.6,"y":55.3},{"s":"k","x":848,"y":95},{"s":"k","x":851,"y":120},{"s":"k","x":853.5,"y":127},{"s":"k","x":856,"y":123},{"s":"k","x":859,"y":100},{"s":"k","x":861.5,"y":75},{"s":"k","x":864.1,"y":55.3},{"s":"k","x":867,"y":30},{"s":"k","x":871,"y":12.1},{"s":"k","x":875,"y":7},{"s":"k","x":880,"y":5.6},{"s":"k","x":883,"y":7},{"s":"k","x":886.9,"y":10},{"s":"k","x":890,"y":8},{"s":"k","x":893.2,"y":5.6},{"s":"k","x":897,"y":4.5},{"s":"k","x":901.1,"y":4.3},{"s":"k","x":907,"y":2.5},{"s":"k","x":914.3,"y":1.3},{"s":"k","x":920,"y":2},{"s":"k","x":924.9,"y":3.5},{"s":"k","x":930,"y":9},{"s":"k","x":934,"y":13},{"s":"k","x":938,"y":16.4},{"s":"k","x":942,"y":15},{"s":"k","x":945,"y":12},{"s":"k","x":948.5,"y":11.2},{"s":"k","x":953,"y":10},{"s":"k","x":959.1,"y":10},{"s":"k","x":963,"y":8},{"s":"k","x":967,"y":5.6},{"s":"k","x":972,"y":3.5},{"s":"k","x":977.6,"y":2.6},{"s":"k","x":982,"y":8},{"s":"k","x":987.1,"y":20.7},{"s":"k","x":992,"y":28},{"s":"k","x":996,"y":34},{"s":"k","x":998.7,"y":35.9},{"s":"k","x":1002,"y":32},{"s":"k","x":1005,"y":24},{"s":"k","x":1009.2,"y":14.3},{"s":"k","x":1014,"y":11},{"s":"k","x":1019.8,"y":10},{"s":"k","x":1025,"y":10},{"s":"k","x":1030,"y":8.5},{"s":"k","x":1035.6,"y":8.6},{"s":"k","x":1041,"y":8},{"s":"k","x":1046.2,"y":7.8},{"s":"k","x":1051,"y":4},{"s":"k","x":1056.7,"y":1.3},{"s":"k","x":1061,"y":3.5},{"s":"k","x":1064.7,"y":5.6},{"s":"k","x":1068,"y":4},{"s":"k","x":1072.6,"y":3.5},{"s":"k","x":1076,"y":12},{"s":"k","x":1079,"y":28},{"s":"k","x":1083.1,"y":42.3},{"s":"k","x":1087,"y":65},{"s":"k","x":1090,"y":78},{"s":"k","x":1092.1,"y":81.2},{"s":"k","x":1095,"y":74},{"s":"k","x":1098,"y":62},{"s":"k","x":1101.6,"y":55.3},{"s":"k","x":1105,"y":50},{"s":"k","x":1108,"y":45},{"s":"k","x":1112.2,"y":42.3},{"s":"k","x":1116,"y":36},{"s":"k","x":1120.1,"y":31.5},{"s":"k","x":1123,"y":22},{"s":"k","x":1127,"y":12},{"s":"k","x":1130.6,"y":7.8},{"s":"k","x":1135,"y":4},{"s":"k","x":1141.2,"y":2.6},{"s":"k","x":1146,"y":3},{"s":"k","x":1152,"y":5.5},{"s":"k","x":1157,"y":7.8},{"s":"k","x":1161,"y":12},{"s":"k","x":1165,"y":18},{"s":"k","x":1169,"y":23},{"s":"k","x":1173,"y":25.1},{"s":"k","x":1178,"y":22},{"s":"k","x":1183.5,"y":18.6},{"s":"k","x":1188,"y":15},{"s":"k","x":1192,"y":11},{"s":"k","x":1196.7,"y":7.8},{"s":"k","x":1202,"y":4},{"s":"k","x":1209.9,"y":1.3},{"s":"k","x":1218,"y":2},{"s":"k","x":1225.7,"y":2.6},{"s":"k","x":1233,"y":4},{"s":"k","x":1241.6,"y":7.8},{"s":"k","x":1248,"y":15},{"s":"k","x":1254.8,"y":33.7},{"s":"k","x":1258.2,"y":40},{"s":"k","x":1263,"y":65},{"s":"k","x":1268.8,"y":98.4},{"s":"k","x":1273,"y":120},{"s":"k","x":1279.3,"y":137.3},{"s":"k","x":1285.6,"y":143.8},{"s":"k","x":1289,"y":138},{"s":"k","x":1292.5,"y":124.4},{"s":"k","x":1296,"y":95},{"s":"k","x":1300.5,"y":59.6},{"s":"k","x":1304,"y":35},{"s":"k","x":1308.4,"y":20.7},{"s":"k","x":1313,"y":17},{"s":"k","x":1319,"y":14.3},{"s":"k","x":1324,"y":11},{"s":"k","x":1329.6,"y":7.8},{"s":"k","x":1333,"y":12},{"s":"k","x":1337.5,"y":17.3},{"s":"k","x":1341,"y":17.5},{"s":"k","x":1345.4,"y":16.4},{"s":"k","x":1349,"y":10},{"s":"k","x":1353.3,"y":5.6},{"s":"k","x":1357,"y":3.5},{"s":"k","x":1361.3,"y":3.5},{"s":"k","x":1365,"y":7},{"s":"k","x":1369.2,"y":13},{"s":"k","x":1372,"y":7},{"s":"k","x":1375.5,"y":2.6},{"s":"k","x":1380,"y":2.8},{"s":"k","x":1385,"y":3.5},{"s":"k","x":1390,"y":3.8},{"s":"k","x":1394.5,"y":4.3},{"s":"k","x":1399,"y":12},{"s":"k","x":1403.5,"y":25.1},{"s":"k","x":1408,"y":33},{"s":"k","x":1412.4,"y":38},{"s":"k","x":1416,"y":32},{"s":"k","x":1421.9,"y":20.7},{"s":"k","x":1427,"y":18},{"s":"k","x":1432.5,"y":16.4},{"s":"k","x":1438,"y":15},{"s":"k","x":1443.1,"y":14.3},{"s":"k","x":1448,"y":12},{"s":"k","x":1453.6,"y":10},{"s":"k","x":1457,"y":7},{"s":"k","x":1461.5,"y":5.6},{"s":"k","x":1465,"y":4.5},{"s":"k","x":1469.5,"y":4.3},{"s":"k","x":1473,"y":6.5},{"s":"k","x":1477.4,"y":8.6},{"s":"k","x":1481,"y":7.5},{"s":"k","x":1485.3,"y":6.9},{"s":"k","x":1490,"y":8},{"s":"k","x":1495.9,"y":10},{"s":"k","x":1502,"y":12},{"s":"k","x":1505,"y":14},{"s":"k","x":1509.1,"y":16.4},{"s":"k","x":1514,"y":13},{"s":"k","x":1518,"y":10},{"s":"k","x":1522.3,"y":7.8},{"s":"k","x":1527,"y":5.5},{"s":"k","x":1532.9,"y":3.5},{"s":"k","x":1538,"y":5},{"s":"k","x":1543.4,"y":8.6},{"s":"k","x":1547,"y":6},{"s":"k","x":1551.4,"y":2.6},{"s":"k","x":1558,"y":3.5},{"s":"k","x":1564.6,"y":5.6},{"s":"k","x":1570,"y":7},{"s":"k","x":1575.1,"y":10},{"s":"k","x":1580,"y":13},{"s":"k","x":1585.7,"y":20.7},{"s":"k","x":1590,"y":45},{"s":"k","x":1593,"y":80},{"s":"k","x":1596.3,"y":120},{"s":"k","x":1600,"y":220},{"s":"k","x":1604.2,"y":336},{"s":"k","x":1608,"y":410},{"s":"k","x":1611.1,"y":435.2},{"s":"k","x":1614,"y":410},{"s":"k","x":1618.5,"y":336},{"s":"k","x":1622,"y":220},{"s":"k","x":1625.4,"y":120},{"s":"k","x":1628,"y":65},{"s":"k","x":1630.5,"y":35},{"s":"k","x":1633.3,"y":16.4},{"s":"k","x":1638,"y":7},{"s":"k","x":1643.9,"y":3.5},{"s":"k","x":1652,"y":2.8},{"s":"k","x":1659.7,"y":2.6},{"s":"k","x":1664,"y":3.5},{"s":"k","x":1667.6,"y":5.6},{"s":"k","x":1671,"y":14},{"s":"k","x":1675.6,"y":20.7},{"s":"k","x":1678.5,"y":14},{"s":"k","x":1680.9,"y":4.3},{"s":"k","x":1684,"y":2},{"s":"k","x":1688.8,"y":1.3},{"s":"k","x":1695,"y":2},{"s":"k","x":1702,"y":3.5},{"s":"k","x":1706,"y":12},{"s":"k","x":1710,"y":42.3},{"s":"k","x":1714,"y":90},{"s":"k","x":1717.9,"y":141.6},{"s":"k","x":1721,"y":180},{"s":"k","x":1724.2,"y":200},{"s":"k","x":1727.5,"y":182},{"s":"k","x":1731.1,"y":141.6},{"s":"k","x":1735,"y":90},{"s":"k","x":1739,"y":55.3},{"s":"k","x":1743,"y":25},{"s":"k","x":1746,"y":13},{"s":"k","x":1749.6,"y":7.8},{"s":"k","x":1755,"y":4},{"s":"k","x":1765.4,"y":2.6},{"s":"k","x":1775,"y":3},{"s":"k","x":1786.5,"y":3.5},{"s":"k","x":1795,"y":2.4},{"s":"k","x":1805,"y":3},{"s":"k","x":1812.9,"y":2.6},{"s":"k","x":1820,"y":3.5},{"s":"k","x":1826,"y":5},{"s":"k","x":1831.4,"y":6.9},{"s":"k","x":1835,"y":4},{"s":"k","x":1839.3,"y":2.6},{"s":"k","x":1845,"y":5},{"s":"k","x":1849.8,"y":7.8},{"s":"k","x":1855,"y":4.5},{"s":"k","x":1860,"y":3},{"s":"k","x":1865.7,"y":3.5},{"s":"k","x":1870,"y":5},{"s":"k","x":1875,"y":3},{"s":"k","x":1881.5,"y":5.6},{"s":"k","x":1887,"y":3.5},{"s":"k","x":1893,"y":5},{"s":"k","x":1900,"y":4.3},
{"s":"g","x":634,"y":0.3},{"s":"g","x":640,"y":4},{"s":"g","x":645,"y":1.5},{"s":"g","x":653,"y":6},{"s":"g","x":660,"y":2},{"s":"g","x":670,"y":1},{"s":"g","x":681,"y":5},{"s":"g","x":688,"y":2},{"s":"g","x":695,"y":4},{"s":"g","x":698,"y":15},{"s":"g","x":702,"y":22.9},{"s":"g","x":705,"y":18},{"s":"g","x":709,"y":8},{"s":"g","x":715,"y":3},{"s":"g","x":720,"y":1},{"s":"g","x":730,"y":4},{"s":"g","x":735,"y":9},{"s":"g","x":739,"y":10},{"s":"g","x":744,"y":3},{"s":"g","x":755,"y":1.5},{"s":"g","x":770,"y":1.5},{"s":"g","x":780,"y":2.5},{"s":"g","x":785,"y":8},{"s":"g","x":790,"y":15},{"s":"g","x":795,"y":17},{"s":"g","x":798,"y":16.4},{"s":"g","x":802,"y":10},{"s":"g","x":806,"y":4},{"s":"g","x":810,"y":1.5},{"s":"g","x":814,"y":1.3},{"s":"g","x":820,"y":3},{"s":"g","x":826,"y":2},{"s":"g","x":832,"y":1.5},{"s":"g","x":838,"y":3},{"s":"g","x":842,"y":15},{"s":"g","x":846,"y":45},{"s":"g","x":850,"y":90},{"s":"g","x":853.5,"y":116},{"s":"g","x":857,"y":108},{"s":"g","x":860,"y":80},{"s":"g","x":864,"y":45},{"s":"g","x":868,"y":18},{"s":"g","x":873,"y":6},{"s":"g","x":880,"y":3},{"s":"g","x":887,"y":5},{"s":"g","x":894,"y":3},{"s":"g","x":905,"y":1.5},{"s":"g","x":915,"y":1},{"s":"g","x":925,"y":2},{"s":"g","x":935,"y":6},{"s":"g","x":940,"y":8},{"s":"g","x":948,"y":6},{"s":"g","x":958,"y":5},{"s":"g","x":966,"y":3},{"s":"g","x":975,"y":1.5},{"s":"g","x":983,"y":6},{"s":"g","x":989,"y":15},{"s":"g","x":995,"y":25},{"s":"g","x":998.7,"y":29.4},{"s":"g","x":1003,"y":24},{"s":"g","x":1008,"y":10},{"s":"g","x":1015,"y":5},{"s":"g","x":1025,"y":5},{"s":"g","x":1035,"y":4},{"s":"g","x":1046,"y":4},{"s":"g","x":1055,"y":1},{"s":"g","x":1065,"y":2},{"s":"g","x":1072,"y":2},{"s":"g","x":1078,"y":8},{"s":"g","x":1083,"y":20},{"s":"g","x":1088,"y":42},{"s":"g","x":1091,"y":55},{"s":"g","x":1094,"y":57.5},{"s":"g","x":1098,"y":45},{"s":"g","x":1103,"y":30},{"s":"g","x":1107,"y":25.1},{"s":"g","x":1112,"y":27},{"s":"g","x":1117,"y":29.4},{"s":"g","x":1121,"y":22},{"s":"g","x":1126,"y":10},{"s":"g","x":1132,"y":4},{"s":"g","x":1140,"y":1.5},{"s":"g","x":1150,"y":2},{"s":"g","x":1158,"y":5},{"s":"g","x":1166,"y":12},{"s":"g","x":1171,"y":17},{"s":"g","x":1175.6,"y":18.6},{"s":"g","x":1180,"y":17},{"s":"g","x":1186,"y":14},{"s":"g","x":1193,"y":8},{"s":"g","x":1200,"y":4},{"s":"g","x":1210,"y":1},{"s":"g","x":1225,"y":1.5},{"s":"g","x":1240,"y":4},{"s":"g","x":1248,"y":8},{"s":"g","x":1255,"y":16.4},{"s":"g","x":1260,"y":25},{"s":"g","x":1266,"y":40},{"s":"g","x":1274,"y":55.3},{"s":"g","x":1280,"y":80},{"s":"g","x":1285.6,"y":94.2},{"s":"g","x":1290,"y":88},{"s":"g","x":1295,"y":72.5},{"s":"g","x":1300,"y":48},{"s":"g","x":1305.8,"y":25.1},{"s":"g","x":1312,"y":10},{"s":"g","x":1320,"y":5},{"s":"g","x":1327,"y":3.5},{"s":"g","x":1333,"y":8},{"s":"g","x":1337.5,"y":12},{"s":"g","x":1342,"y":8},{"s":"g","x":1348,"y":3},{"s":"g","x":1353,"y":1.3},{"s":"g","x":1365,"y":3},{"s":"g","x":1372,"y":2},{"s":"g","x":1385,"y":2},{"s":"g","x":1398,"y":5.6},{"s":"g","x":1404,"y":14},{"s":"g","x":1408,"y":20},{"s":"g","x":1412,"y":25.1},{"s":"g","x":1418,"y":17},{"s":"g","x":1427,"y":12},{"s":"g","x":1440,"y":12},{"s":"g","x":1450,"y":15},{"s":"g","x":1456,"y":16.4},{"s":"g","x":1464,"y":10},{"s":"g","x":1472,"y":5},{"s":"g","x":1480,"y":3.5},{"s":"g","x":1490,"y":4},{"s":"g","x":1500,"y":5},{"s":"g","x":1510,"y":4},{"s":"g","x":1522,"y":5.6},{"s":"g","x":1535,"y":6},{"s":"g","x":1545,"y":9},{"s":"g","x":1551,"y":12},{"s":"g","x":1556,"y":8},{"s":"g","x":1564,"y":3.5},{"s":"g","x":1575,"y":4},{"s":"g","x":1585,"y":8},{"s":"g","x":1590,"y":20},{"s":"g","x":1593,"y":40},{"s":"g","x":1596,"y":76.8},{"s":"g","x":1600,"y":150},{"s":"g","x":1604,"y":230},{"s":"g","x":1608,"y":265},{"s":"g","x":1611,"y":273.3},{"s":"g","x":1614,"y":260},{"s":"g","x":1618,"y":220},{"s":"g","x":1622,"y":140},{"s":"g","x":1625,"y":76.8},{"s":"g","x":1629,"y":30},{"s":"g","x":1633,"y":12},{"s":"g","x":1638,"y":5.6},{"s":"g","x":1650,"y":2},{"s":"g","x":1665,"y":3},{"s":"g","x":1671,"y":4.5},{"s":"g","x":1676,"y":5.6},{"s":"g","x":1681,"y":3},{"s":"g","x":1690,"y":1},{"s":"g","x":1702,"y":2},{"s":"g","x":1707,"y":8},{"s":"g","x":1711,"y":30},{"s":"g","x":1715,"y":60},{"s":"g","x":1718,"y":76.8},{"s":"g","x":1721,"y":115},{"s":"g","x":1724,"y":141.7},{"s":"g","x":1727,"y":125},{"s":"g","x":1731,"y":76.8},{"s":"g","x":1735,"y":45},{"s":"g","x":1739,"y":22},{"s":"g","x":1744,"y":7.8},{"s":"g","x":1750,"y":3},{"s":"g","x":1765,"y":1.5},{"s":"g","x":1790,"y":2},{"s":"g","x":1820,"y":2.5},{"s":"g","x":1850,"y":2},{"s":"g","x":1880,"y":2},{"s":"g","x":1900,"y":2}
]
},
"spacing": -24,
"vconcat": [
{
 "bounds": "flush",
 "spacing": 122.2,
 "vconcat": [
 {
  "width": 836, "height": 452,
  "layer": [
   {"data": {"values": [{"x": 1150, "y": -200, "t": "Journal Pre-proof"}]}, "mark": {"type": "text", "font": "Open Sans", "fontSize": 114, "color": "#e3e3e3", "angle": -44, "align": "center", "baseline": "middle", "clip": false},
    "encoding": {"x": {"field": "x", "type": "quantitative", "scale": {"domain": [600, 1884], "nice": false}}, "y": {"field": "y", "type": "quantitative", "scale": {"domain": [0, 250], "nice": false}}, "text": {"field": "t"}}},
   {"data": {"values": [{"x": 600}]}, "mark": {"type": "rule", "color": "#000000", "strokeWidth": 2}, "encoding": {"x": {"field": "x", "type": "quantitative"}}},
   {"data": {"name": "A"}, "transform": [{"filter": "datum.s == 'g'"}], "mark": {"type": "line", "color": "#8c8c8c", "strokeWidth": 3, "interpolate": "monotone", "strokeJoin": "round", "clip": true},
    "encoding": {"x": {"field": "x", "type": "quantitative", "axis": {"values": [600, 800, 1000, 1200, 1400, 1600, 1800], "format": "d", "title": "Raman shift [cm⁻¹]", "zindex": 1}},
                 "y": {"field": "y", "type": "quantitative", "axis": {"values": [0, 50, 100, 150, 200, 250], "format": "d", "title": "Intensity", "titleY": 242, "zindex": 1}}}},
   {"data": {"name": "A"}, "transform": [{"filter": "datum.s == 'k'"}], "mark": {"type": "line", "color": "#000000", "strokeWidth": 3, "interpolate": "monotone", "strokeJoin": "round", "clip": true},
    "encoding": {"x": {"field": "x", "type": "quantitative"}, "y": {"field": "y", "type": "quantitative"}}},
   {"data": {"values": [{"x": 456, "y": -1, "t": "A"}]}, "mark": {"type": "text", "font": "Open Sans", "fontSize": 23, "color": "#000000", "align": "center", "baseline": "middle", "clip": false},
    "encoding": {"x": {"field": "x", "type": "quantitative"}, "y": {"field": "y", "type": "quantitative"}, "text": {"field": "t"}}}
  ]
 },
 {
  "width": 836, "height": 425,
  "layer": [
   {"data": {"values": [{"x": 600}]}, "mark": {"type": "rule", "color": "#000000", "strokeWidth": 2}, "encoding": {"x": {"field": "x", "type": "quantitative", "scale": {"domain": [600, 1884], "nice": false}}}},
   {"data": {"name": "B"}, "transform": [{"filter": "datum.s == 'g'"}], "mark": {"type": "line", "color": "#8c8c8c", "strokeWidth": 3, "strokeJoin": "round", "clip": true},
    "encoding": {"x": {"field": "x", "type": "quantitative", "axis": {"values": [600, 800, 1000, 1200, 1400, 1600, 1800], "format": "d", "title": "Raman shift [cm ⁻¹]", "zindex": 1}},
                 "y": {"field": "y", "type": "quantitative", "scale": {"domain": [0, 90], "nice": false}, "axis": {"values": [0, 10, 20, 30, 40, 50, 60, 70, 80, 90], "format": "d", "title": "Intensity", "zindex": 1}}}},
   {"data": {"name": "B"}, "transform": [{"filter": "datum.s == 'k'"}], "mark": {"type": "line", "color": "#000000", "strokeWidth": 3, "strokeJoin": "round", "clip": true},
    "encoding": {"x": {"field": "x", "type": "quantitative"}, "y": {"field": "y", "type": "quantitative"}}},
   {"data": {"values": [{"x": 457, "y": 1, "t": "B"}]}, "mark": {"type": "text", "font": "Open Sans", "fontSize": 23, "color": "#000000", "align": "center", "baseline": "middle", "clip": false},
    "encoding": {"x": {"field": "x", "type": "quantitative"}, "y": {"field": "y", "type": "quantitative"}, "text": {"field": "t"}}}
  ]
 }
 ]
},
{
  "width": 822, "height": 386,
  "layer": [
   {"data": {"values": [{"x": 600}]}, "mark": {"type": "rule", "color": "#000000", "strokeWidth": 2}, "encoding": {"x": {"field": "x", "type": "quantitative", "scale": {"domain": [600, 1900], "nice": false}}}},
   {"data": {"name": "C"}, "transform": [{"filter": "datum.s == 'g'"}], "mark": {"type": "line", "color": "#8c8c8c", "strokeWidth": 3, "interpolate": "monotone", "strokeJoin": "round", "clip": true},
    "encoding": {"x": {"field": "x", "type": "quantitative", "axis": {"values": [600, 800, 1000, 1200, 1400, 1600, 1800], "format": "d", "title": "Raman shift [cm⁻¹]", "zindex": 1}},
                 "y": {"field": "y", "type": "quantitative", "scale": {"domain": [0, 500], "nice": false}, "axis": {"values": [0, 50, 100, 150, 200, 250, 300, 350, 400, 450, 500], "format": "d", "title": "Intensity", "zindex": 1}}}},
   {"data": {"name": "C"}, "transform": [{"filter": "datum.s == 'k'"}], "mark": {"type": "line", "color": "#000000", "strokeWidth": 3, "interpolate": "monotone", "strokeJoin": "round", "clip": true},
    "encoding": {"x": {"field": "x", "type": "quantitative"}, "y": {"field": "y", "type": "quantitative"}}},
   {"data": {"values": [{"x": 447, "y": -6, "t": "C"}]}, "mark": {"type": "text", "font": "Open Sans", "fontSize": 23, "color": "#000000", "align": "center", "baseline": "middle", "clip": false},
    "encoding": {"x": {"field": "x", "type": "quantitative"}, "y": {"field": "y", "type": "quantitative"}, "text": {"field": "t"}}}
  ]
}
]
}
